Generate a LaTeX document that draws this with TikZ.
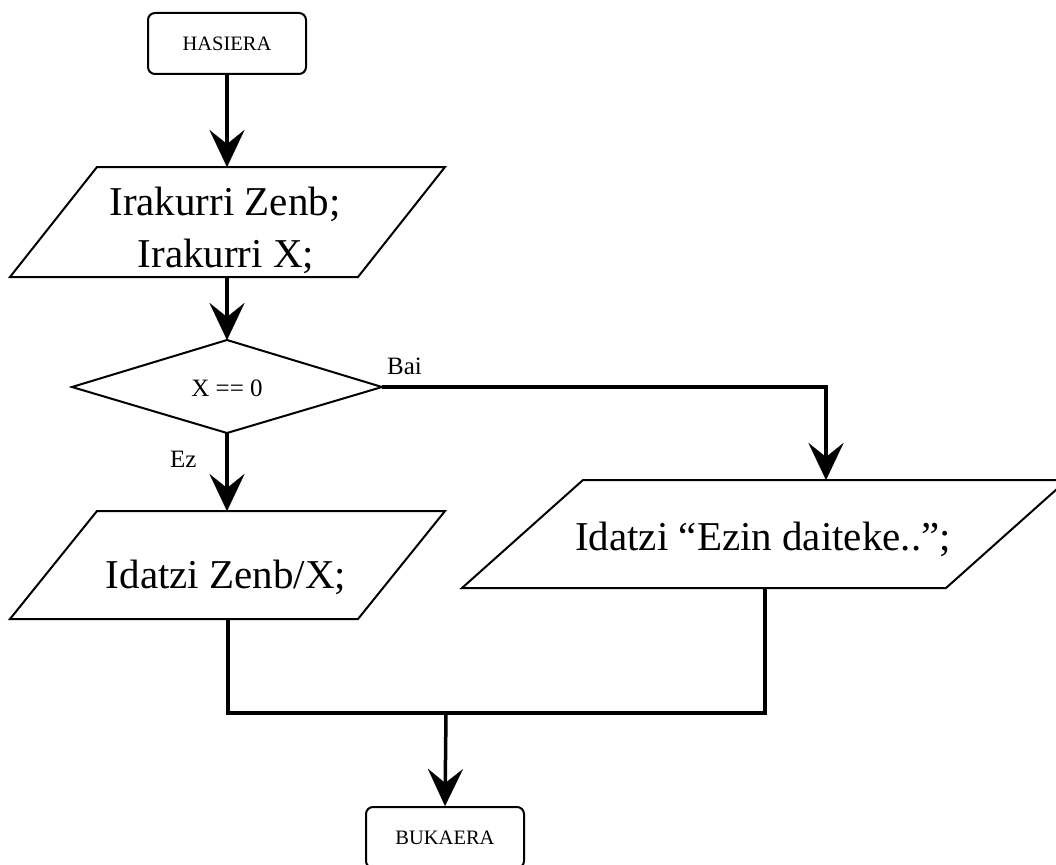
\documentclass[tikz,border=0pt]{standalone}
\usepackage{fontspec}
\setmainfont{Liberation Serif}
\usetikzlibrary{arrows.meta}
\begin{document}
\begin{tikzpicture}[x=1pt,y=-1pt,
  shp/.style={draw,line width=2pt,line join=miter},
  conn/.style={line width=3.5pt},
  arr/.style={conn,-{Stealth[length=37pt,width=35pt,inset=14pt,line width=0.1pt]}},
  big/.style={font=\fontsize{41}{50}\selectfont, inner sep=0pt, anchor=base},
  mid/.style={font=\fontsize{25}{30}\selectfont, inner sep=0pt},
  term/.style={draw, line width=2pt, rounded corners=7pt, minimum width=158pt,
    minimum height=61pt, inner sep=0pt, font=\fontsize{20.5}{24}\selectfont}]
\useasboundingbox (0,0) rectangle (1056,864);
\clip (0,0) rectangle (1056,864);

% terminals
\node[term] (start) at (227,43.5) {HASIERA};
\node[term] (end) at (445,837.5) {BUKAERA};

% input parallelogram 1
\coordinate (p1nw) at (97,167);  \coordinate (p1ne) at (445,167);
\coordinate (p1se) at (358,277); \coordinate (p1sw) at (10,277);
\coordinate (p1n) at (227,167);  \coordinate (p1s) at (227,277);
\draw[shp] (p1nw) -- (p1ne) -- (p1se) -- (p1sw) -- cycle;
\node[big] (read1) at (225,215) {Irakurri Zenb;};
\node[big] (read2) at (226,267) {Irakurri X;};

% decision
\coordinate (dN) at (227,340); \coordinate (dE) at (382,387);
\coordinate (dS) at (227,433); \coordinate (dW) at (72,387);
\draw[shp] (dN) -- (dE) -- (dS) -- (dW) -- cycle;
\node[mid, anchor=base] (cond) at (227,396) {X == 0};
\node[mid, anchor=base west] (bai) at (387,374) {Bai};
\node[mid, anchor=base west] (ez) at (170,467) {Ez};

% output parallelogram 2
\coordinate (p2nw) at (97,511);  \coordinate (p2ne) at (445,511);
\coordinate (p2se) at (358,619); \coordinate (p2sw) at (10,619);
\coordinate (p2n) at (227,511);  \coordinate (p2s) at (228,619);
\draw[shp] (p2nw) -- (p2ne) -- (p2se) -- (p2sw) -- cycle;
\node[big] (write1) at (226,588) {Idatzi Zenb/X;};

% output parallelogram 3
\coordinate (p3nw) at (583,480);  \coordinate (p3ne) at (1067,480);
\coordinate (p3se) at (946,588);  \coordinate (p3sw) at (462,588);
\coordinate (p3n) at (826,480);   \coordinate (p3s) at (765,588);
\draw[shp] (p3nw) -- (p3ne) -- (p3se) -- (p3sw) -- cycle;
\node[big] (write2) at (763,550) {Idatzi “Ezin daiteke..”;};

% merge points
\coordinate (mergeL) at (228,713);
\coordinate (mergeR) at (765,713);
\coordinate (merge) at (446,713);

% connectors
\draw[arr] (start.south) -- (p1n);
\draw[arr] (p1s) -- (dN);
\draw[arr] (dS) -- (p2n);
\draw[arr] (dE) -| (p3n);
\draw[conn] (p2s) -- (mergeL) -- (mergeR) -- (p3s);
\draw[arr] (merge) -- (end.north);
\end{tikzpicture}
\end{document}
